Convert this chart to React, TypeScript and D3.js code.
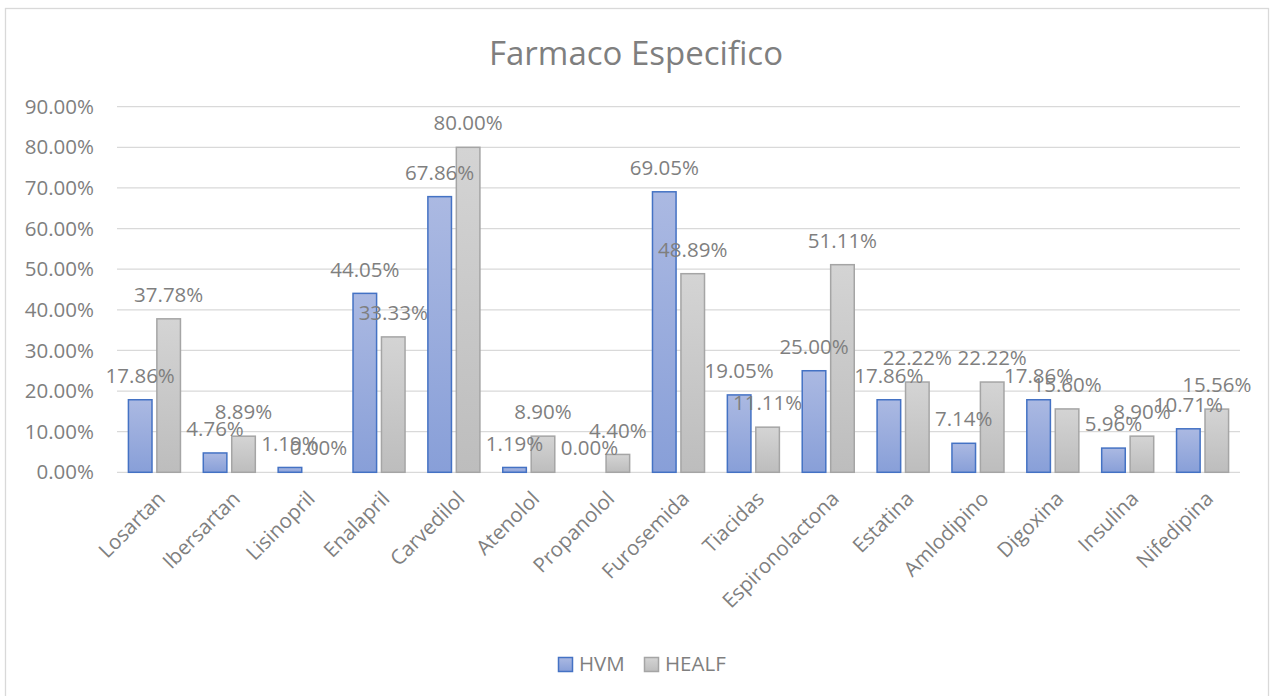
import React from "react";
import * as d3 from "d3";

const categories = ["Losartan","Ibersartan","Lisinopril","Enalapril","Carvedilol","Atenolol","Propanolol","Furosemida","Tiacidas","Espironolactona","Estatina","Amlodipino","Digoxina","Insulina","Nifedipina"];
const hvm = [17.86,4.76,1.19,44.05,67.86,1.19,0.0,69.05,19.05,25.0,17.86,7.14,17.86,5.96,10.71];
const healf = [37.78,8.89,0.0,33.33,80.0,8.9,4.4,48.89,11.11,51.11,22.22,22.22,15.6,8.9,15.56];
const yTicks = [0,10,20,30,40,50,60,70,80,90];
const seriesNames = ["HVM","HEALF"];

const W = 1271, H = 696;
const FONT = "'Open Sans', 'Noto Sans', sans-serif";
const TXT = "#7f7f7f";
const FS = 20.5;

export default function App() {
  const left = 117, right = 1240, top = 106.7, bottom = 472.3;
  const x = d3.scaleBand<string>().domain(categories).range([left, right]).paddingInner(0).paddingOuter(0);
  const y = d3.scaleLinear().domain([0, 90]).range([bottom, top]);
  const band = x.bandwidth();
  const bw = band * 0.315;
  const gap = band * 0.065;
  const off = (band - 2 * bw - gap) / 2;
  const series = [
    { name: seriesNames[0], vals: hvm, fill: "url(#gBlue)", stroke: "#4472c4" },
    { name: seriesNames[1], vals: healf, fill: "url(#gGray)", stroke: "#a5a5a5" },
  ];
  const fmt = (v: number) => v.toFixed(2) + "%";
  return (
    <svg width={W} height={H} style={{ position: "absolute", left: 0, top: 0, background: "#fff" }} fontFamily={FONT}>
      <defs>
        <linearGradient id="gBlue" x1="0" y1="0" x2="0" y2="1">
          <stop offset="0" stopColor="#abb9e2" />
          <stop offset="1" stopColor="#889fd8" />
        </linearGradient>
        <linearGradient id="gGray" x1="0" y1="0" x2="0" y2="1">
          <stop offset="0" stopColor="#d4d4d4" />
          <stop offset="1" stopColor="#bdbdbd" />
        </linearGradient>
      </defs>
      <rect x={5.5} y={8.5} width={1263} height={700} fill="#fff" stroke="#d9d9d9" strokeWidth={1.3} />
      <text x={636} y={64.5} textAnchor="middle" fontSize={33} fill={TXT}>Farmaco Especifico</text>
      {yTicks.map(t => (
        <g key={t}>
          <line x1={left} x2={right} y1={y(t)} y2={y(t)} stroke="#d9d9d9" strokeWidth={1.3} />
          <text x={94} y={y(t)} dy="0.35em" textAnchor="end" fontSize={FS} fill={TXT}>{fmt(t)}</text>
        </g>
      ))}
      {series.map((s, si) => (
        <g key={s.name}>
          {categories.map((c, i) => {
            const bx = (x(c) as number) + off + si * (bw + gap);
            const v = s.vals[i];
            const yt = y(v);
            return v > 0 ? (
              <rect key={c} x={bx} y={yt} width={bw} height={bottom - yt} fill={s.fill} stroke={s.stroke} strokeWidth={1.5} />
            ) : null;
          })}
        </g>
      ))}
      {series.map((s, si) => (
        <g key={s.name + "l"}>
          {categories.map((c, i) => {
            const bx = (x(c) as number) + off + si * (bw + gap);
            const v = s.vals[i];
            return (
              <text key={c} x={bx + bw / 2} y={y(v) - 24} dy="0.35em" textAnchor="middle" fontSize={FS} fill={TXT}>{fmt(v)}</text>
            );
          })}
        </g>
      ))}
      {categories.map(c => {
        const cx = (x(c) as number) + band / 2 + 12;
        const cy = 500;
        return (
          <text key={c} x={cx} y={cy} textAnchor="end" fontSize={FS} fill={TXT} transform={`rotate(-45 ${cx} ${cy})`}>{c}</text>
        );
      })}
      <g>
        <rect x={558.5} y={657.5} width={14} height={14} fill="url(#gBlue)" stroke="#4472c4" strokeWidth={1.5} />
        <text x={579} y={664} dy="0.35em" fontSize={FS} fill={TXT}>{seriesNames[0]}</text>
        <rect x={644.5} y={657.5} width={14} height={14} fill="url(#gGray)" stroke="#a5a5a5" strokeWidth={1.5} />
        <text x={665} y={664} dy="0.35em" fontSize={FS} fill={TXT}>{seriesNames[1]}</text>
      </g>
    </svg>
  );
}
